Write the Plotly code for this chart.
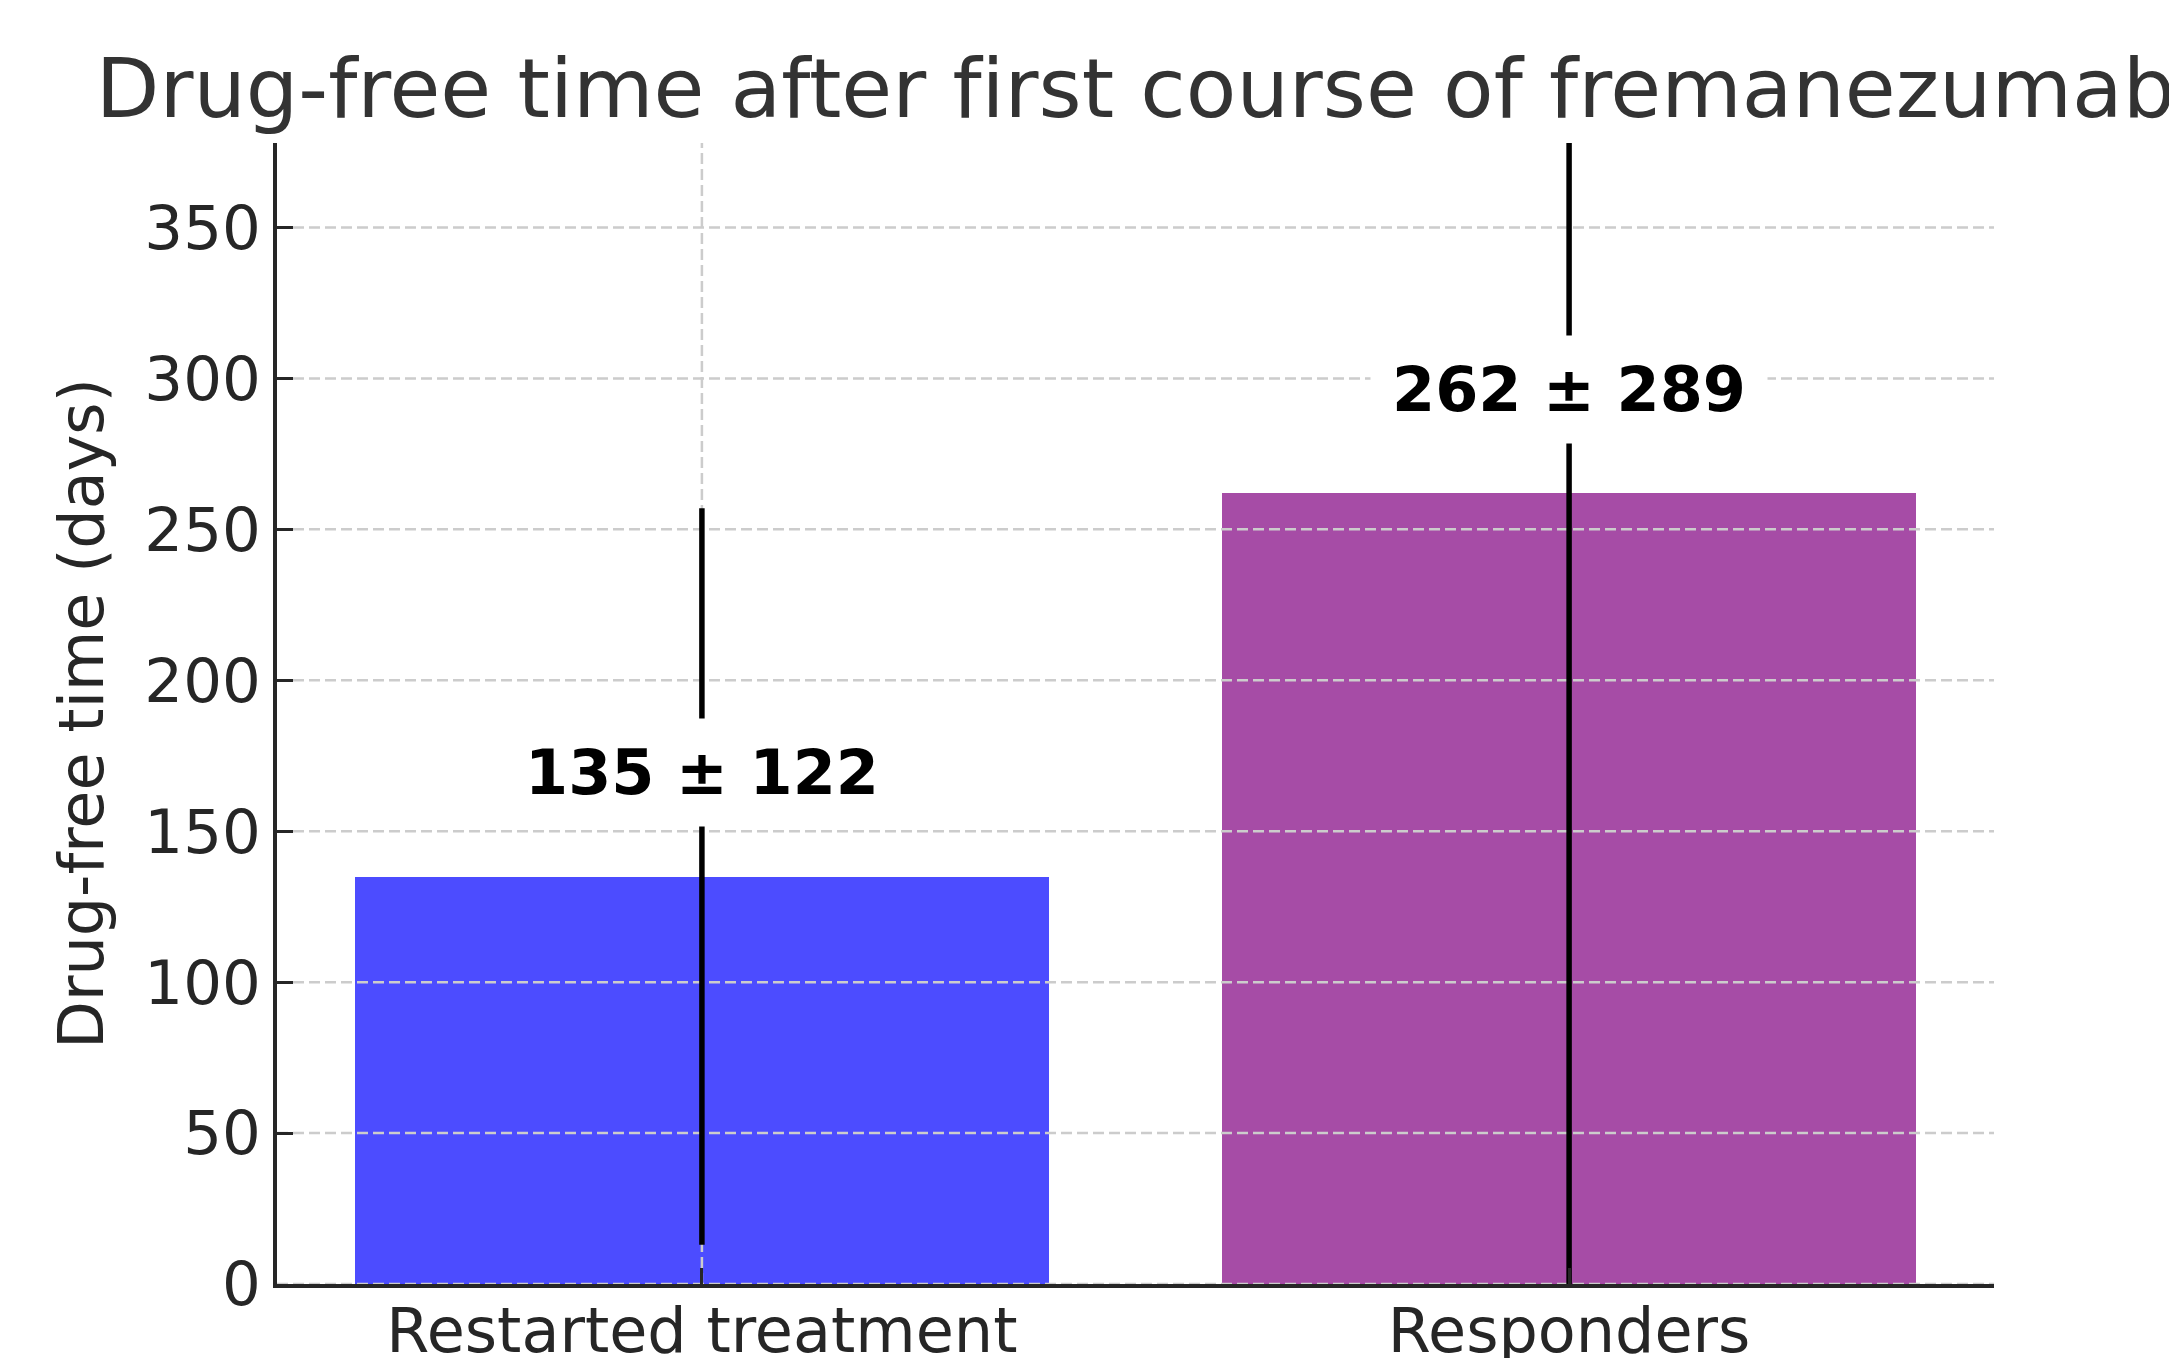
import plotly.graph_objects as go

# ---- data ----
categories = ["Restarted treatment", "Responders"]
means = [135, 262]
sds = [122, 289]
bar_colors = ["rgba(0,0,255,0.7)", "rgba(128,0,128,0.7)"]
y_ticks = [0, 50, 100, 150, 200, 250, 300, 350]
title_text = "Drug-free time after f\u200cirst course of fremanezumab"
y_label = "Drug-free time (days)"

# ---- layout constants ----
W, H = 2177, 1358
OFF = 8  # page body margin offset
X_RANGE = [-0.49, 1.49]
Y_RANGE = [0, 378]
LABEL_OFFSET = 34.5
FONT = "DejaVu Sans"
TXT = "#262626"
GRID = "#cccccc"

xpos = list(range(len(categories)))

fig = go.Figure()

# bars
fig.add_trace(go.Bar(
    x=xpos, y=means, width=0.8,
    marker=dict(color=bar_colors, line=dict(width=0)),
    hoverinfo="skip", showlegend=False,
))

# gridlines drawn above bars (matplotlib axisbelow=False look)
gx, gy = [], []
for t in y_ticks:
    gx += [X_RANGE[0], X_RANGE[1], None]
    gy += [t, t, None]
for p in xpos:
    gx += [p, p, None]
    gy += [Y_RANGE[0], Y_RANGE[1], None]
fig.add_trace(go.Scatter(
    x=gx, y=gy, mode="lines",
    line=dict(color=GRID, width=2.5, dash="11px,5px"),
    hoverinfo="skip", showlegend=False,
))

# error bars
fig.add_trace(go.Scatter(
    x=xpos, y=means, mode="markers",
    marker=dict(size=1, color="rgba(0,0,0,0)"),
    error_y=dict(type="data", array=sds, visible=True, color="black",
                 thickness=5.5, width=0),
    hoverinfo="skip", showlegend=False,
))

# value labels
for p, m, s in zip(xpos, means, sds):
    fig.add_annotation(
        x=p, y=m + LABEL_OFFSET, xref="x", yref="y",
        text=f"<b>{m} ± {s}</b>", showarrow=False,
        font=dict(family=FONT, size=62, color="black"),
        bgcolor="white", borderpad=0, width=396, height=107,
        xanchor="center", yanchor="middle",
    )

fig.update_layout(
    width=W, height=H,
    margin=dict(l=277 - OFF, r=183 + OFF, t=143 - OFF, b=74 + OFF, pad=0),
    paper_bgcolor="white", plot_bgcolor="white",
    font=dict(family=FONT, color=TXT, size=62),
    title=dict(text=title_text, x=0.5, xref="paper", xanchor="center",
               y=1 - (88 - OFF) / H, yref="container", yanchor="middle",
               font=dict(family=FONT, size=82.7, color="#333333")),
    showlegend=False,
    bargap=0,
)

fig.update_xaxes(
    range=X_RANGE, tickvals=xpos, ticktext=categories,
    showgrid=False, zeroline=False, automargin=False,
    showline=True, linecolor=TXT, linewidth=4,
    ticks="inside", ticklen=16, tickwidth=3, tickcolor=TXT,
    ticklabelstandoff=-10,
    tickfont=dict(family=FONT, size=62, color=TXT),
)
fig.update_yaxes(
    range=Y_RANGE, tickvals=y_ticks,
    showgrid=False, zeroline=False, automargin=False,
    showline=True, linecolor=TXT, linewidth=4,
    ticks="inside", ticklen=16, tickwidth=3, tickcolor=TXT,
    tickfont=dict(family=FONT, size=61, color=TXT),
    title=dict(text=y_label, font=dict(family=FONT, size=62, color=TXT), standoff=22),
)

fig.write_html("out.html")
